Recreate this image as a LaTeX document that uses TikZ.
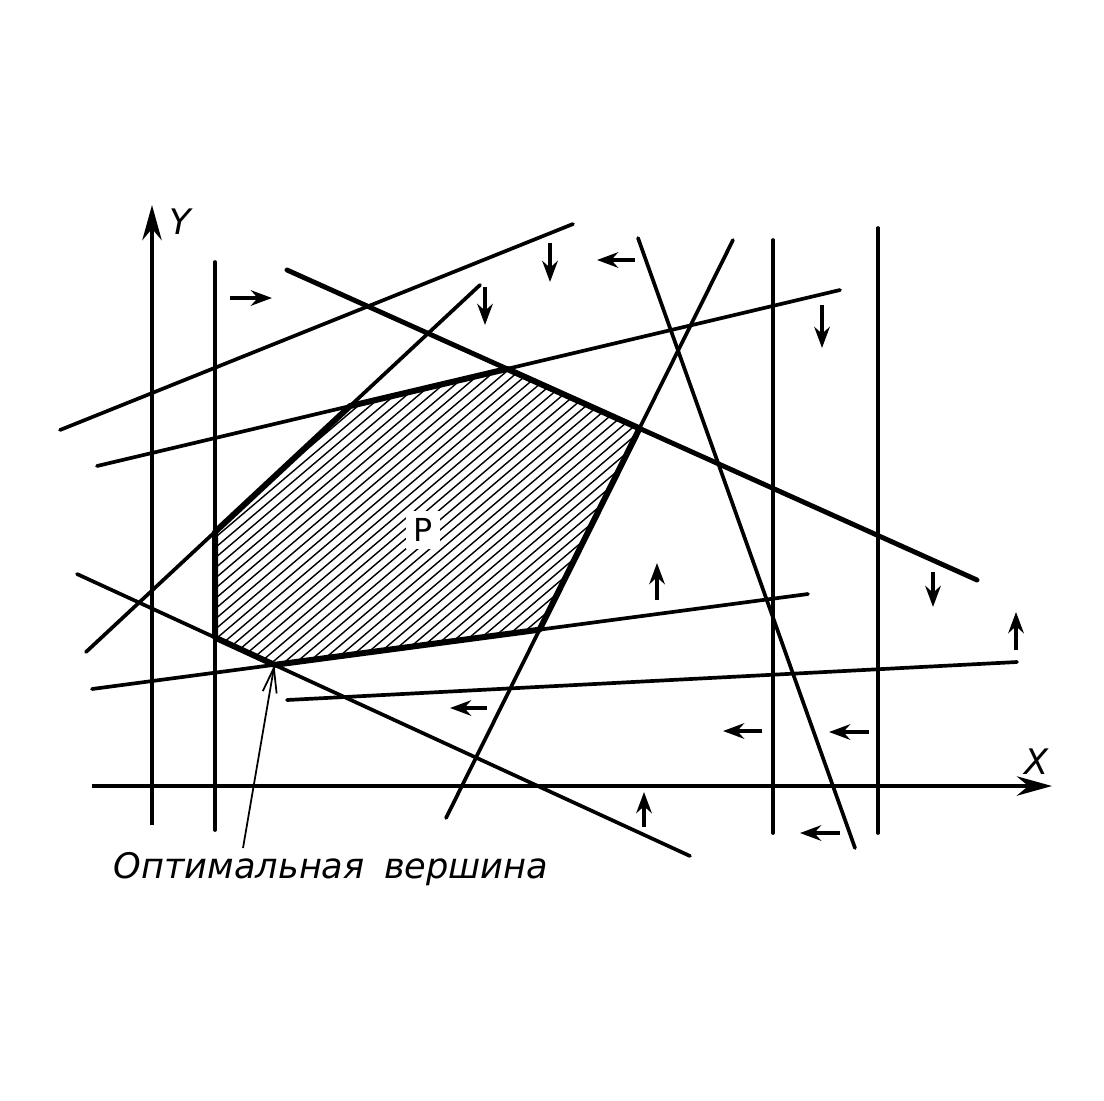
\documentclass[tikz,border=0pt]{standalone}
\usepackage{fontspec}
\newfontfamily\labelfont{DejaVu Sans}
\usetikzlibrary{arrows.meta}
\tikzset{
  axis/.style={line width=1.1pt,-{Stealth[length=10pt,width=5.5pt]}},
  constraint/.style={line width=1.05pt,line cap=round},
  heavy/.style={line width=1.4pt,line cap=round},
  boundary/.style={line width=1.7pt,line join=round},
  hatch/.style={line width=0.4pt},
  dirarrow/.style={line width=1.1pt,-{Stealth[length=6pt,width=4.4pt]}},
  pointer/.style={line width=0.5pt,-{Straight Barb[length=7pt,width=4pt]}},
  axislabel/.style={font=\labelfont\itshape\fontsize{10}{12}\selectfont,inner sep=0pt},
  caption/.style={font=\labelfont\itshape\fontsize{10}{12}\selectfont,inner sep=0pt}
}
\begin{document}
\begin{tikzpicture}[x=0.01cm,y=-0.01cm]
  \useasboundingbox (0,0) rectangle (1104,1100);
  % end points of the constraint lines
  \coordinate (l1a) at (60,430);   \coordinate (l1b) at (573,224);
  \coordinate (l2a) at (287,270);  \coordinate (l2b) at (977,580);
  \coordinate (l3a) at (86,652);   \coordinate (l3b) at (480,285);
  \coordinate (l4a) at (97,466);   \coordinate (l4b) at (840,290);
  \coordinate (l5a) at (446,818);  \coordinate (l5b) at (733,240);
  \coordinate (l6a) at (638,238);  \coordinate (l6b) at (855,848);
  \coordinate (l7a) at (77,574);   \coordinate (l7b) at (690,856);
  \coordinate (l8a) at (92,689);   \coordinate (l8b) at (808,594);
  \coordinate (l9a) at (287,700);  \coordinate (l9b) at (1017,662);
  \coordinate (v1a) at (215,262);  \coordinate (v1b) at (215,830);
  \coordinate (v2a) at (773,240);  \coordinate (v2b) at (773,833);
  \coordinate (v3a) at (878,228);  \coordinate (v3b) at (878,833);
  % vertices of P
  \coordinate (pA) at (intersection of l3a--l3b and v1a--v1b);
  \coordinate (pB) at (intersection of v1a--v1b and l7a--l7b);
  \coordinate (pC) at (intersection of l7a--l7b and l8a--l8b);
  \coordinate (pD) at (intersection of l8a--l8b and l5a--l5b);
  \coordinate (pE) at (intersection of l5a--l5b and l2a--l2b);
  \coordinate (pF) at (intersection of l2a--l2b and l4a--l4b);
  \coordinate (pG) at (intersection of l4a--l4b and l3a--l3b);

  % hatching
  \begin{scope}
    \clip (pA) -- (pB) -- (pC) -- (pD) -- (pE) -- (pF) -- (pG) -- cycle;
    \foreach \c in {-24,-12,...,490}
      \draw[hatch] (\c,700) -- ({\c+600},190);
  \end{scope}
  \node[fill=white,inner sep=2pt,font=\labelfont\fontsize{9}{11}\selectfont] (plabel) at (423,530) {P};

  % constraints
  \foreach \n in {1,3,4,5,6,7,8,9}
    \draw[constraint] (l\n a) -- (l\n b);
  \draw[heavy] (l2a) -- (l2b);
  \foreach \n in {1,2,3}
    \draw[constraint] (v\n a) -- (v\n b);
  \draw[boundary] (pA) -- (pB) -- (pC) -- (pD) -- (pE) -- (pF) -- (pG) -- cycle;

  % axes
  \coordinate (yfoot) at (152,825);  \coordinate (ytip) at (152,205);
  \coordinate (xfoot) at (92,786);   \coordinate (xtip) at (1052,786);
  \draw[axis] (yfoot) -- (ytip);
  \draw[axis] (xfoot) -- (xtip);
  \node[axislabel] (ylabel) at (180,222) {Y};
  \node[axislabel] (xlabel) at (1037,762) {X};

  % half-plane directions
  \foreach \xa/\ya/\xb/\yb in {230/298/272/298, 550/243/550/282, 635/260/597/260,
      485/287/485/325, 822/305/822/348, 657/600/657/563, 933/572/933/607,
      1016/650/1016/612, 487/708/450/708, 762/731/723/731, 869/732/829/732,
      840/833/800/833, 644/827/644/792}
    \draw[dirarrow] (\xa,\ya) -- (\xb,\yb);

  % optimal vertex
  \node[caption] (caption) at (331,869) {Оптимальная\hspace{0.55em}вершина};
  \coordinate (ptail) at (243,848);
  \draw[pointer] (ptail) -- (pC);
\end{tikzpicture}
\end{document}
